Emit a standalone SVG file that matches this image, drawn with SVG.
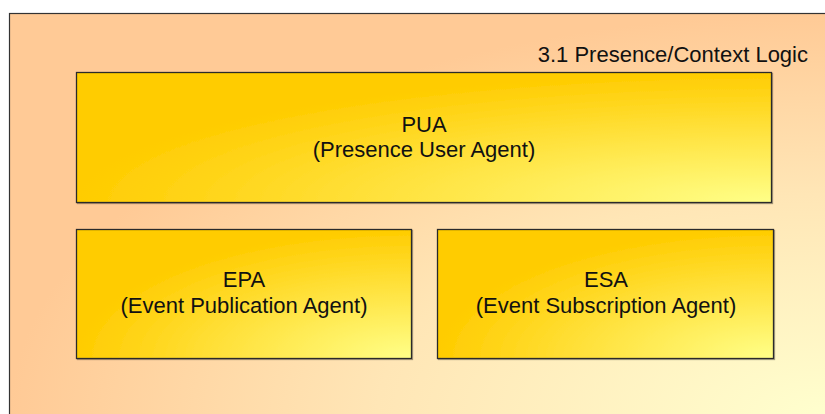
<svg xmlns="http://www.w3.org/2000/svg" width="825" height="414" viewBox="0 0 825 414">
  <defs>
    <radialGradient id="gOuter" cx="1" cy="1" r="1" fx="1" fy="1">
      <stop offset="0" stop-color="#FFFFCE"/>
      <stop offset="0.55" stop-color="#FFE6B6"/>
      <stop offset="1" stop-color="#FFCA96"/>
    </radialGradient>
    <radialGradient id="gBox" cx="1" cy="1" r="1" fx="1" fy="1">
      <stop offset="0" stop-color="#FFFF88"/>
      <stop offset="0.55" stop-color="#FFE23E"/>
      <stop offset="1" stop-color="#FFCC00"/>
    </radialGradient>
    <filter id="sh" x="-5%" y="-5%" width="110%" height="115%">
      <feDropShadow dx="1" dy="1" stdDeviation="0.4" flood-color="#000" flood-opacity="0.35"/>
    </filter>
  </defs>
  <style>
    .outer { fill: url(#gOuter); stroke: #333; stroke-width: 1.2; }
    .box { fill: url(#gBox); stroke: #2a2a2a; stroke-width: 1.3; filter: url(#sh); }
    text { font-family: "Liberation Sans", Arial, sans-serif; font-size: 22px; fill: #111; }
    .c { text-anchor: middle; }
  </style>
  <rect width="825" height="414" fill="#ffffff"/>
  <g id="context">
    <rect class="outer" x="9.5" y="13.5" width="818" height="403"/>
    <text x="808" y="62" text-anchor="end">3.1 Presence/Context Logic</text>
  </g>
  <g id="pua">
    <rect class="box" x="76.5" y="72.5" width="695" height="130"/>
    <text class="c" x="424" y="132">PUA</text>
    <text class="c" x="424" y="157">(Presence User Agent)</text>
  </g>
  <g id="epa">
    <rect class="box" x="76.5" y="229.5" width="335" height="129"/>
    <text class="c" x="244" y="287">EPA</text>
    <text class="c" x="244" y="313">(Event Publication Agent)</text>
  </g>
  <g id="esa">
    <rect class="box" x="437.5" y="229.5" width="336" height="129"/>
    <text class="c" x="606" y="287">ESA</text>
    <text class="c" x="606" y="313">(Event Subscription Agent)</text>
  </g>
  <g id="connectors"></g>
</svg>
